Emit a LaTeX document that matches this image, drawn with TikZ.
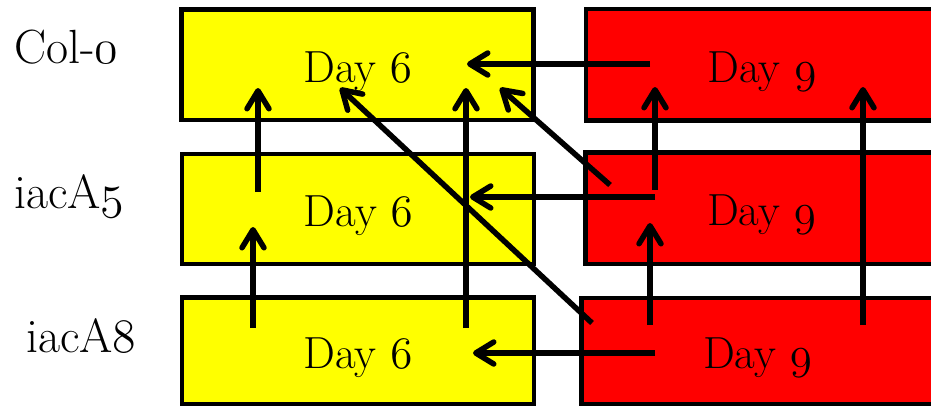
\RequirePackage{fix-cm}
\documentclass[tikz,border=0pt]{standalone}
\usetikzlibrary{arrows.meta}
\definecolor{boxyellow}{RGB}{255,255,0}
\definecolor{boxred}{RGB}{255,0,0}
\newcommand\osnum[1]{{\usefont{OML}{cmm}{m}{it}#1}}
\begin{document}
\begin{tikzpicture}[x=1pt,y=-1pt,
  box/.style={draw=black, line width=4.5pt, minimum width=352pt, inner sep=0pt,
    text height=35pt, text depth=0pt, font=\fontsize{45}{45}\selectfont},
  ybox/.style={box, fill=boxyellow},
  rbox/.style={box, fill=boxred},
  lbl/.style={anchor=base west, inner sep=0pt, font=\fontsize{48}{48}\selectfont},
  arr/.style={line width=5.5pt, line cap=butt, -{Straight Barb[length=18pt,width=22pt,round]}}
]
\useasboundingbox (0,0) rectangle (931,408);
\fill[white] (0,0) rectangle (931,408);

% boxes
\node[ybox, minimum height=110.5pt] (y1) at (357.6,64.5) {Day \osnum{6}};
\node[ybox, minimum height=110pt]   (y2) at (358.2,209) {Day \osnum{6}};
\node[ybox, minimum height=106.5pt] (y3) at (358,350.75) {Day \osnum{6}};
\node[rbox, minimum height=111.4pt] (r1) at (762,64.9) {Day \osnum{9}};
\node[rbox, minimum height=111.5pt] (r2) at (761.5,208.3) {Day \osnum{9}};
\node[rbox, minimum height=106pt]   (r3) at (757.5,351) {Day \osnum{9}};

% row labels
\node[lbl] (l1) at (14,63)  {Col-\osnum{0}};
\node[lbl] (l2) at (14,208) {iacA\osnum{5}};
\node[lbl] (l3) at (26,352) {iacA\osnum{8}};

% arrow end points
\coordinate (h1s) at (650,64);   \coordinate (h1e) at (467,64);
\coordinate (h2s) at (655,197);  \coordinate (h2e) at (470,197);
\coordinate (h3s) at (655,353);  \coordinate (h3e) at (473,353);
\coordinate (v1s) at (258,192);  \coordinate (v1e) at (258,88);
\coordinate (v2s) at (253,328);  \coordinate (v2e) at (253,227);
\coordinate (v3s) at (466,328);  \coordinate (v3e) at (466,88);
\coordinate (v4s) at (655,190);  \coordinate (v4e) at (655,87);
\coordinate (v5s) at (650,325);  \coordinate (v5e) at (650,223);
\coordinate (v6s) at (863,325);  \coordinate (v6e) at (863,87);
\coordinate (d1s) at (610,185);  \coordinate (d1e) at (500,88);
\coordinate (d2s) at (592,323);  \coordinate (d2e) at (340,88);

% arrows
\draw[arr] (h1s) -- (h1e);
\draw[arr] (h2s) -- (h2e);
\draw[arr] (h3s) -- (h3e);
\draw[arr] (v1s) -- (v1e);
\draw[arr] (v2s) -- (v2e);
\draw[arr] (v3s) -- (v3e);
\draw[arr] (v4s) -- (v4e);
\draw[arr] (v5s) -- (v5e);
\draw[arr] (v6s) -- (v6e);
\draw[arr] (d1s) -- (d1e);
\draw[arr] (d2s) -- (d2e);
\end{tikzpicture}
\end{document}
